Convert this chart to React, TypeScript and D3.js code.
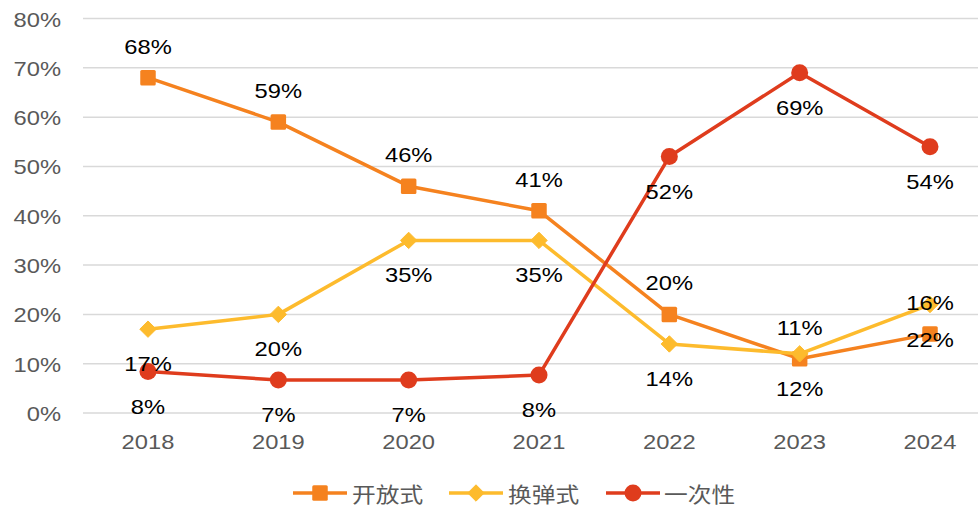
import React from "react";
import * as d3 from "d3";

const years = ["2018", "2019", "2020", "2021", "2022", "2023", "2024"];
const openValues = [68, 59, 46, 41, 20, 11, 16];
const cartridgeValues = [17, 20, 35, 35, 14, 12, 22];
const disposableValues = [8.4, 6.7, 6.7, 7.7, 52, 69, 54];
const yTicks = [0, 10, 20, 30, 40, 50, 60, 70, 80];
const seriesNames = ["开放式", "换弹式", "一次性"];

const W = 978;
const H = 507;
const SX = 1.13;
const FS = 21;
const NUM_FONT = "'Liberation Sans', Arial, sans-serif";
const CJK_FONT = "'Noto Sans CJK SC', 'Noto Sans', sans-serif";

const colors = ["#F5821F", "#FDBB2D", "#DF3C1D"];

function Txt({ x, y, anchor, fill, font, children }: any) {
  return (
    <text
      transform={`translate(${x},${y}) scale(${SX},1)`}
      textAnchor={anchor}
      fill={fill}
      fontFamily={font}
      fontSize={FS}
    >
      {children}
    </text>
  );
}

function Marker({ kind, x, y, color }: any) {
  if (kind === 0) {
    const s = 15.5;
    return <rect x={x - s / 2} y={y - s / 2} width={s} height={s} rx={1.5} fill={color} />;
  }
  if (kind === 1) {
    const r = 8.2;
    return (
      <path
        d={`M${x},${y - r}L${x + r},${y}L${x},${y + r}L${x - r},${y}Z`}
        fill={color}
        stroke={color}
        strokeWidth={1}
        strokeLinejoin="round"
      />
    );
  }
  return <circle cx={x} cy={y} r={8.5} fill={color} />;
}

export default function App() {
  const x = d3.scalePoint<string>().domain(years).range([148, 930]);
  const y = d3.scaleLinear().domain([0, 80]).range([413, 18.5]);
  const fmt = (v: number) => d3.format(".0%")(v / 100);
  const series = [openValues, cartridgeValues, disposableValues];
  const labelAbove = [true, false, false];
  const line = d3
    .line<number>()
    .x((_, i) => x(years[i]) as number)
    .y((d) => y(d));

  const legendItems = [
    { lx: 293, tx: 352 },
    { lx: 449, tx: 508 },
    { lx: 606, tx: 664 },
  ];
  const legendY = 493;

  return (
    <svg width={W} height={H} style={{ position: "absolute", left: 0, top: 0, background: "#fff" }}>
      <rect width={W} height={H} fill="#fff" />
      {yTicks.map((t) => (
        <g key={t}>
          <line x1={83} x2={W} y1={y(t)} y2={y(t)} stroke="#D9D9D9" strokeWidth={1.5} />
          <Txt x={61} y={y(t) + 8} anchor="end" fill="#595959" font={NUM_FONT}>
            {t + "%"}
          </Txt>
        </g>
      ))}
      {years.map((yr) => (
        <Txt key={yr} x={x(yr)} y={449} anchor="middle" fill="#595959" font={NUM_FONT}>
          {yr}
        </Txt>
      ))}
      {series.map((vals, si) => (
        <g key={si}>
          <path d={line(vals) || ""} fill="none" stroke={colors[si]} strokeWidth={3.5} strokeLinejoin="round" />
          {vals.map((v, i) => (
            <Marker key={i} kind={si} x={x(years[i])} y={y(v)} color={colors[si]} />
          ))}
        </g>
      ))}
      {series.map((vals, si) => (
        <g key={"l" + si}>
          {vals.map((v, i) => (
            <Txt
              key={i}
              x={x(years[i])}
              y={labelAbove[si] ? y(v) - 24 : y(v) + 42}
              anchor="middle"
              fill="#000"
              font={NUM_FONT}
            >
              {fmt(v)}
            </Txt>
          ))}
        </g>
      ))}
      {legendItems.map((it, si) => (
        <g key={"lg" + si}>
          <line x1={it.lx} x2={it.lx + 54} y1={legendY} y2={legendY} stroke={colors[si]} strokeWidth={3.5} />
          <Marker kind={si} x={it.lx + 27} y={legendY} color={colors[si]} />
          <Txt x={it.tx} y={legendY + 9} anchor="start" fill="#595959" font={CJK_FONT}>
            {seriesNames[si]}
          </Txt>
        </g>
      ))}
    </svg>
  );
}
